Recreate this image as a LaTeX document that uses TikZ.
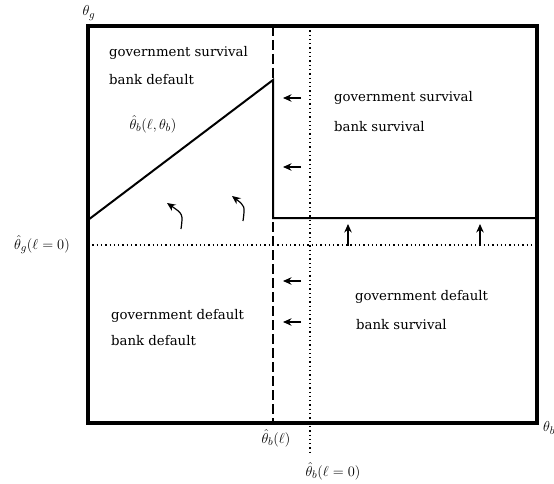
\documentclass[tikz,border=0pt]{standalone}
\usepackage{fontspec}
\setmainfont{DejaVu Serif}
\usetikzlibrary{arrows.meta}
\begin{document}
\begin{tikzpicture}[x=1pt,y=-1pt,
  frame/.style={line width=3.5pt},
  bound/.style={line width=2pt},
  dashb/.style={line width=2pt,dash pattern=on 10pt off 4pt},
  dotl/.style={line width=1.3pt,dash pattern=on 1.3pt off 3pt},
  arr/.style={line width=1.2pt,-{Stealth[length=8.5pt,width=7.5pt]}},
  lbl/.style={font=\fontsize{13.3}{15}\selectfont,anchor=west,inner sep=0pt},
  mlbl/.style={font=\fontsize{15.5}{17}\selectfont,inner sep=0pt}]
\useasboundingbox (0,0) rectangle (554,484);
% corners
\coordinate (tl) at (88,26);
\coordinate (br) at (537,423);
\coordinate (dt) at (273,26);
\coordinate (db) at (273,423);
\coordinate (ot) at (310,26);
\coordinate (ob) at (310,455);
\coordinate (hl) at (88,245);
\coordinate (hr) at (537,245);
\coordinate (sa) at (88,220);
\coordinate (sb) at (273,80);
\coordinate (sc) at (273,218);
\coordinate (sd) at (537,218);
% dotted lines
\draw[dotl] (ot) -- (ob);
\draw[dotl] (hl) -- (hr);
% dashed
\draw[dashb] (dt) -- (db);
% boundary
\draw[bound] (sa) -- (sb) -- (sc) -- (sd);
% frame
\draw[frame] (tl) rectangle (br);
% arrows left
\coordinate (a1s) at (301,98);  \coordinate (a1e) at (283,98);
\coordinate (a2s) at (301,167); \coordinate (a2e) at (283,167);
\coordinate (a3s) at (301,281); \coordinate (a3e) at (283,281);
\coordinate (a4s) at (301,322); \coordinate (a4e) at (283,322);
\draw[arr] (a1s) -- (a1e);
\draw[arr] (a2s) -- (a2e);
\draw[arr] (a3s) -- (a3e);
\draw[arr] (a4s) -- (a4e);
% arrows up
\coordinate (u1s) at (348,246); \coordinate (u1e) at (348,224);
\coordinate (u2s) at (480,246); \coordinate (u2e) at (480,224);
\draw[arr] (u1s) -- (u1e);
\draw[arr] (u2s) -- (u2e);
% curved arrows
\coordinate (c1s) at (181,229); \coordinate (c1e) at (167,203);
\coordinate (c2s) at (243,221); \coordinate (c2e) at (232,196);
\draw[arr] (c1s) .. controls (183,214) .. (c1e);
\draw[arr] (c2s) .. controls (245,206) .. (c2e);
% region texts
\node[lbl] (t1) at (109,53) {government survival};
\node[lbl] (t2) at (109,80) {bank default};
\node[lbl] (t3) at (334,98) {government survival};
\node[lbl] (t4) at (334,127) {bank survival};
\node[lbl] (t5) at (355,297) {government default};
\node[lbl] (t6) at (356,325) {bank survival};
\node[lbl] (t7) at (111,316) {government default};
\node[lbl] (t8) at (111,341) {bank default};
% math labels
\node[mlbl] (m1) at (153,124) {$\hat\theta_b(\ell,\theta_b)$};
\node[mlbl] (m2) at (89,13) {$\theta_g$};
\node[mlbl,anchor=west] (m3) at (543,428) {$\theta_b$};
\node[mlbl] (m4) at (42,245) {$\hat\theta_g(\ell=0)$};
\node[mlbl] (m5) at (276,438) {$\hat\theta_b(\ell)$};
\node[mlbl] (m6) at (333,471) {$\hat\theta_b(\ell=0)$};
\end{tikzpicture}
\end{document}
